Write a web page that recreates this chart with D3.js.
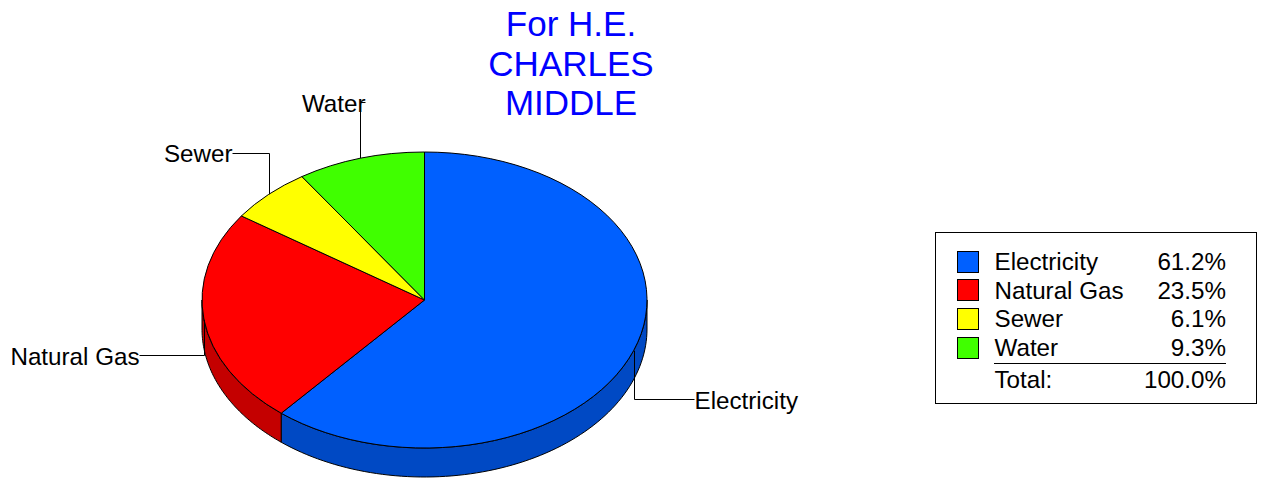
<!DOCTYPE html>
<html><head><meta charset="utf-8">
<script src="https://cdn.jsdelivr.net/npm/d3@7"></script>
<style>html,body{margin:0;padding:0;background:#fff}svg{display:block}text{font-family:"Liberation Sans",Arial,sans-serif;fill:#000}</style>
</head><body><svg id="c" width="1265" height="487"></svg>
<script>
const titleLines = ["For H.E.", "CHARLES", "MIDDLE"];
const categories = ["Electricity", "Natural Gas", "Sewer", "Water"];
const values = [61.2, 23.5, 6.1, 9.3];
const totalLabel = "Total:";
const totalValue = 100.0;
const topColors = ["#0060ff", "#ff0000", "#ffff00", "#40ff00"];
const sideColors = ["#0049c4", "#c40000", "#c4c400", "#30c400"];
const leaders = [
  {elbowY: 399.5, dx: 60, textDy: 9, anchor: "start"},
  {elbowY: 355.5, dx: -65, textDy: 9, anchor: "end"},
  {elbowY: 153.5, dx: -37, textDy: 8, anchor: "end"},
  {elbowY: 102.5, dx: 5, textDy: 9, anchor: "end"}
];

const fontSize = 24.2;
const cx = 424.5, cy = 300, rx = 222.5, ry = 148, depth = 29;
const fmt = d3.format(".1f");
const svg = d3.select("#c");
const pie = d3.pie().sort(null).value(d => d)(values);
const arc = d3.arc().innerRadius(0).outerRadius(1);
const px = a => cx + rx * Math.sin(a), py = a => cy - ry * Math.cos(a);

// side walls (front half only)
const A = Math.PI;
const sideLine = d3.line();
pie.forEach((s, i) => {
  const a0 = Math.max(s.startAngle, A / 2), a1 = Math.min(s.endAngle, 3 * A / 2);
  if (a1 <= a0) return;
  const t = d3.scaleLinear().domain([0, 80]).range([a0, a1]);
  const angles = d3.range(81).map(t);
  const top = angles.map(a => [px(a), py(a)]);
  const bot = angles.slice().reverse().map(a => [px(a), py(a) + depth]);
  svg.append("path").attr("d", sideLine(top.concat(bot)) + "Z")
    .attr("fill", sideColors[i]).attr("stroke", "#000").attr("stroke-width", 1);
});

// top faces
const g = svg.append("g").attr("transform", `translate(${cx},${cy}) scale(${rx},${ry})`);
g.selectAll("path").data(pie).join("path")
  .attr("d", arc)
  .attr("fill", (d, i) => topColors[i])
  .attr("stroke", "#000").attr("stroke-width", 1)
  .attr("vector-effect", "non-scaling-stroke");

// leaders + labels
pie.forEach((s, i) => {
  const m = (s.startAngle + s.endAngle) / 2;
  const x = Math.round(px(m)) + 0.5, y = py(m), o = leaders[i];
  svg.append("path")
    .attr("d", d3.line()([[x, y], [x, o.elbowY], [x + o.dx, o.elbowY]]))
    .attr("fill", "none").attr("stroke", "#000").attr("stroke-width", 1);
  svg.append("text").attr("x", x + o.dx).attr("y", o.elbowY + o.textDy)
    .attr("text-anchor", o.anchor).attr("font-size", fontSize).text(categories[i]);
});

// title
svg.append("g").selectAll("text").data(titleLines).join("text")
  .attr("x", 571).attr("y", (d, i) => 36 + i * 39.5)
  .attr("text-anchor", "middle").attr("font-size", 35)
  .style("fill", "#0000ff").text(d => d);

// legend
svg.append("rect").attr("x", 935.5).attr("y", 232.5).attr("width", 321).attr("height", 171)
  .attr("fill", "#fff").attr("stroke", "#000");
const rowY = d3.scaleLinear().domain([0, 1]).range([261, 289.7]);
const leg = svg.append("g").selectAll("g").data(categories).join("g");
leg.append("rect").attr("x", 957.5).attr("y", (d, i) => Math.round(rowY(i) - 10.5) + .5)
  .attr("width", 21).attr("height", 21).attr("fill", (d, i) => topColors[i]).attr("stroke", "#000");
leg.append("text").attr("x", 994.5).attr("y", (d, i) => rowY(i) + 9).attr("font-size", fontSize).text(d => d);
leg.append("text").attr("x", 1226).attr("y", (d, i) => rowY(i) + 9).attr("text-anchor", "end").attr("font-size", fontSize).text((d, i) => fmt(values[i]) + "%");
svg.append("line").attr("x1", 994).attr("x2", 1226).attr("y1", 363.5).attr("y2", 363.5).attr("stroke", "#000");
svg.append("text").attr("x", 994.5).attr("y", 388).attr("font-size", fontSize).text(totalLabel);
svg.append("text").attr("x", 1226).attr("y", 388).attr("text-anchor", "end").attr("font-size", fontSize).text(fmt(totalValue) + "%");
</script></body></html>
